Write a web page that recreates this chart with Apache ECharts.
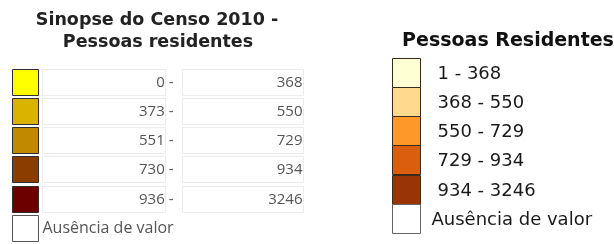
<!DOCTYPE html>
<html>
<head>
<meta charset="utf-8">
<script src="https://cdn.jsdelivr.net/npm/echarts@6/dist/echarts.min.js"></script>
<style>
  html, body { margin: 0; padding: 0; background: #fff; }
  #main { width: 614px; height: 244px; }
</style>
</head>
<body>
<div id="main"></div>
<script>
// legenda 1: Sinopse do Censo 2010
var censoMin = [0, 373, 551, 730, 936];
var censoMax = [368, 550, 729, 934, 3246];
var censoCores = ['#ffff00', '#dab300', '#c08900', '#8b3d00', '#6c0000'];

// legenda 2: Pessoas Residentes
var residMin = [1, 368, 550, 729, 934];
var residMax = [368, 550, 729, 934, 3246];
var residCores = ['#ffffd4', '#fed98e', '#fe9929', '#d95f0e', '#993404'];

var semValor = 'Ausência de valor';
var linhas = ['c0', 'c1', 'c2', 'c3', 'c4', 'sem'];

function txt(text, x, y, align, font, fill) {
    return {
        type: 'text',
        style: {
            text: text, x: x, y: y,
            align: align, textAlign: align,
            verticalAlign: 'middle', textVerticalAlign: 'middle',
            font: font, fill: fill
        }
    };
}

// linhas da legenda da esquerda
function itemCenso(params, api) {
    var i = params.dataIndex;
    var c = api.coord([0, i]);
    var h = api.size([0, 1])[1];
    var x0 = Math.round(c[0]) + 0.5;
    var top = Math.round(c[1] - h / 2) + 0.5;
    var hh = Math.round(h) - 3;
    var cy = top + hh / 2;
    var filhos = [{
        type: 'rect',
        shape: { x: x0, y: top, width: 26, height: hh },
        style: { fill: i < censoMin.length ? censoCores[i] : '#fff', stroke: i < censoMin.length ? '#2e2e2e' : '#555', lineWidth: 1 }
    }];
    if (i < censoMin.length) {
        filhos.push({
            type: 'rect',
            shape: { x: x0 + 30, y: top, width: 123, height: hh },
            style: { fill: '#fff', stroke: '#ececec', lineWidth: 1 }
        });
        filhos.push({
            type: 'rect',
            shape: { x: x0 + 170, y: top, width: 121, height: hh },
            style: { fill: '#fff', stroke: '#ececec', lineWidth: 1 }
        });
        filhos.push(txt(censoMin[i] + ' -', x0 + 161, cy, 'right', '15px "Open Sans"', '#555'));
        filhos.push(txt(String(censoMax[i]), x0 + 290, cy, 'right', '15px "Open Sans"', '#555'));
    } else {
        filhos.push(txt(semValor, x0 + 30, cy, 'left', '16px "Open Sans"', '#555'));
    }
    return { type: 'group', children: filhos };
}

// linhas da legenda da direita
function itemResid(params, api) {
    var i = params.dataIndex;
    var c = api.coord([0, i]);
    var h = api.size([0, 1])[1];
    var x0 = Math.round(c[0]) + 0.5;
    var top = Math.round(c[1] - h / 2) + 0.5;
    var hh = Math.round(h);
    var cy = top + hh / 2 + 1;
    var filhos = [{
        type: 'rect',
        shape: { x: x0, y: top, width: 28, height: hh },
        style: { fill: i < residMin.length ? residCores[i] : '#fff', stroke: i < residMin.length ? '#3a2a1c' : '#666', lineWidth: 1 }
    }];
    if (i < residMin.length) {
        filhos.push(txt(residMin[i] + ' - ' + residMax[i], x0 + 45, cy, 'left', '18px "DejaVu Sans"', '#1a1a1a'));
    } else {
        filhos.push(txt(semValor, x0 + 39, cy, 'left', '18px "DejaVu Sans"', '#1a1a1a'));
    }
    return { type: 'group', children: filhos };
}

var myChart = echarts.init(document.getElementById('main'), null, { renderer: 'canvas' });

var dados = linhas.map(function(n, i) { return [0, i]; });

var option = {
    animation: false,
    backgroundColor: '#fff',
    graphic: [
        txt('Sinopse do Censo 2010 -', 157, 20, 'center', 'bold 17.5px "DejaVu Sans"', '#222'),
        txt('Pessoas residentes', 158, 42, 'center', 'bold 17.5px "DejaVu Sans"', '#222'),
        txt('Pessoas Residentes', 508, 41, 'center', 'bold 19px "DejaVu Sans"', '#111')
    ],
    grid: [
        { left: 12, top: 69, width: 292, height: 176 },
        { left: 392, top: 58, width: 222, height: 175 }
    ],
    xAxis: [
        { type: 'value', gridIndex: 0, min: 0, max: 292, show: false },
        { type: 'value', gridIndex: 1, min: 0, max: 222, show: false }
    ],
    yAxis: [
        { type: 'category', gridIndex: 0, data: linhas, inverse: true, show: false },
        { type: 'category', gridIndex: 1, data: linhas, inverse: true, show: false }
    ],
    series: [
        { type: 'custom', xAxisIndex: 0, yAxisIndex: 0, renderItem: itemCenso, data: dados, silent: true },
        { type: 'custom', xAxisIndex: 1, yAxisIndex: 1, renderItem: itemResid, data: dados, silent: true }
    ]
};
myChart.setOption(option);
</script>
</body>
</html>
